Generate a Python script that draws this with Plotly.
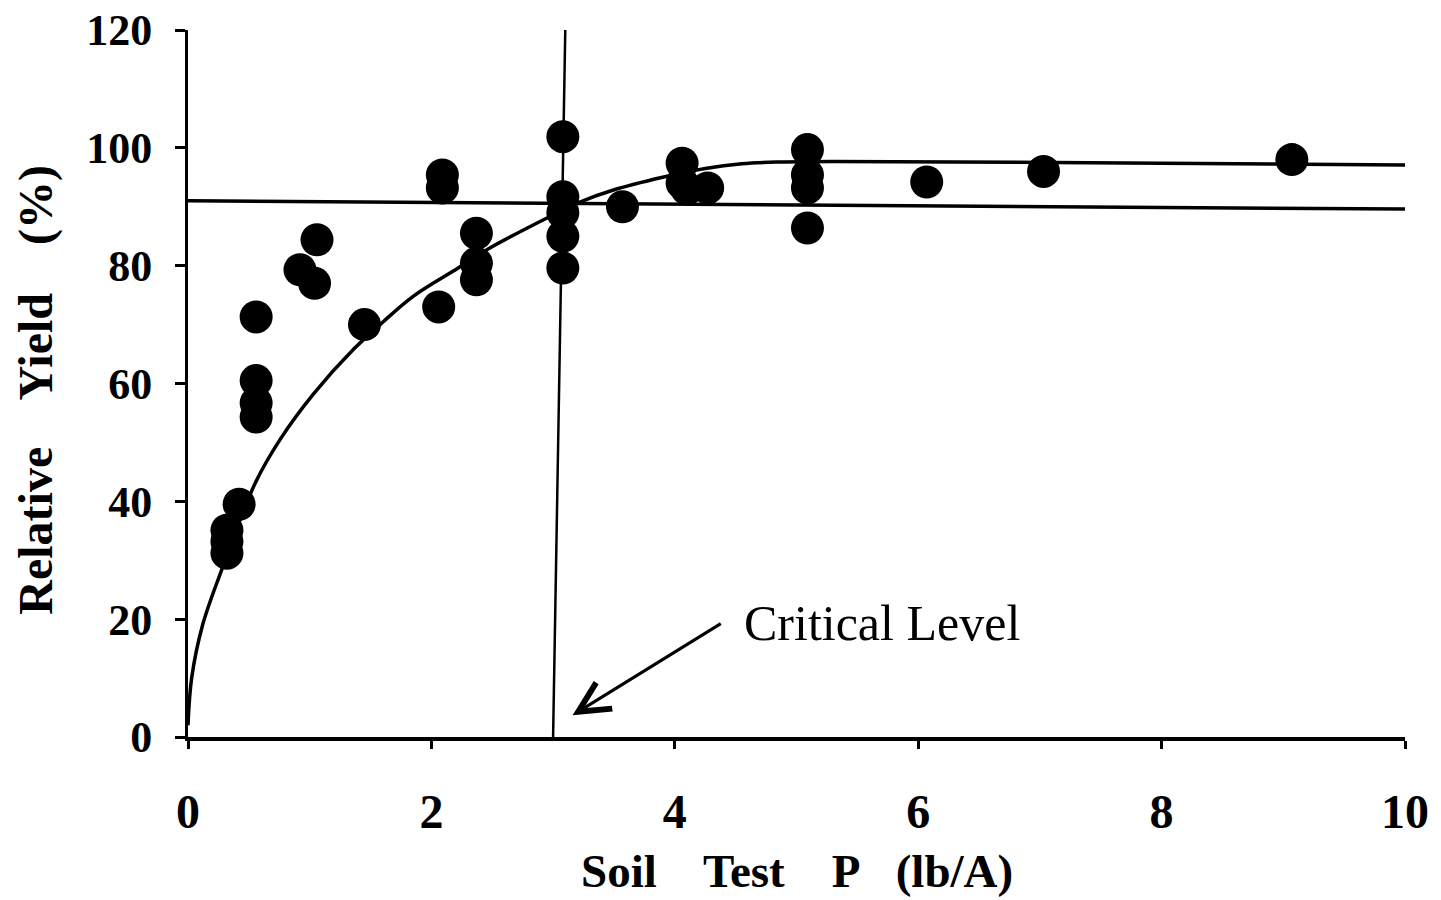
import plotly.graph_objects as go

# observed data points
pts_x = [0.32, 0.32, 0.32, 0.42, 0.56, 0.56, 0.56, 0.56, 0.92, 1.04, 1.06, 1.45,
         2.06, 2.09, 2.09, 2.37, 2.37, 2.37, 3.08, 3.08, 3.08, 3.08, 3.08, 3.57,
         4.06, 4.06, 4.10, 4.27, 5.09, 5.09, 5.09, 5.09, 6.07, 7.03, 9.07]
pts_y = [35.1, 33.2, 31.2, 39.5, 71.3, 60.5, 56.7, 54.3, 79.3, 77.0, 84.4, 70.0,
         73.0, 95.4, 93.2, 85.5, 80.4, 77.6, 101.9, 91.7, 89.0, 85.0, 79.6, 90.0,
         97.4, 94.0, 93.0, 93.2, 99.7, 95.4, 93.2, 86.4, 94.2, 96.0, 98.0]

# fitted response curve
curve_x = [0.0, 0.03, 0.12, 0.27, 0.55, 0.76, 1.03, 1.36, 1.60, 1.85, 2.22, 2.48, 2.95,
           3.22, 3.49, 3.90, 4.25, 4.55, 4.85, 5.30, 6.30, 8.00, 10.03]
curve_y = [2.0, 10.0, 19.0, 28.0, 43.0, 50.6, 58.2, 65.8, 70.4, 74.8, 79.6, 83.0, 88.1,
           90.8, 92.8, 95.0, 96.5, 97.3, 97.6, 97.7, 97.6, 97.4, 97.1]

# 90% relative yield line and critical level line
level_x = [0.0, 10.03]
level_y = [91.0, 89.6]
crit_x = [3.0, 3.1]
crit_y = [0.0, 120.0]

# annotation arrow (tail -> head)
arrow_tail = (4.39, 19.4)
arrow_head = (3.16, 3.7)
label_pos = (4.55, 19.4)

x_ticks = [0, 2, 4, 6, 8, 10]
y_ticks = [0, 20, 40, 60, 80, 100, 120]

fig = go.Figure()
fig.add_trace(go.Scatter(x=level_x, y=level_y, mode="lines",
                         line=dict(color="black", width=3.5), hoverinfo="skip"))
fig.add_trace(go.Scatter(x=crit_x, y=crit_y, mode="lines",
                         line=dict(color="black", width=2.5), hoverinfo="skip"))
fig.add_trace(go.Scatter(x=curve_x, y=curve_y, mode="lines",
                         line=dict(color="black", width=3.5, shape="spline", smoothing=1.0),
                         hoverinfo="skip"))
fig.add_trace(go.Scatter(x=pts_x, y=pts_y, mode="markers",
                         marker=dict(color="black", size=33, line=dict(width=0)),
                         cliponaxis=False))

fig.add_annotation(x=arrow_head[0], y=arrow_head[1], ax=arrow_tail[0], ay=arrow_tail[1],
                   xref="x", yref="y", axref="x", ayref="y", text="",
                   showarrow=True, arrowhead=5, arrowsize=2.0, arrowwidth=3,
                   arrowcolor="black", standoff=0)

fig.add_annotation(x=label_pos[0], y=label_pos[1], xref="x", yref="y", text="Critical Level",
                   showarrow=False, xanchor="left", yanchor="middle",
                   font=dict(family="Liberation Serif", size=50, color="black"))

fig.add_annotation(x=-0.125, y=0.491, xref="paper", yref="paper",
                   text="Relative\u00a0\u00a0\u00a0 Yield\u00a0\u00a0\u00a0 (%)", textangle=-90,
                   showarrow=False, xanchor="center", yanchor="middle",
                   font=dict(family="Liberation Serif", size=48, color="black", weight="bold"))
fig.add_annotation(x=0.5, y=-0.19, xref="paper", yref="paper",
                   text="Soil\u00a0\u00a0\u00a0 Test\u00a0\u00a0\u00a0 P\u00a0\u00a0 (lb/A)",
                   showarrow=False, xanchor="center", yanchor="middle",
                   font=dict(family="Liberation Serif", size=47, color="black", weight="bold"))

fig.update_layout(
    width=1441, height=900, showlegend=False,
    plot_bgcolor="white", paper_bgcolor="white",
    margin=dict(l=188, r=36, t=30, b=163, autoexpand=False),
)
fig.update_xaxes(range=[0, 10], tickvals=x_ticks, showgrid=False, zeroline=False,
                 showline=True, linecolor="black", linewidth=3.5,
                 ticks="outside", ticklen=8, tickwidth=2.5, tickcolor="black",
                 ticklabelstandoff=22, ticklabeloverflow="allow",
                 tickfont=dict(family="Liberation Serif", size=48, color="black", weight="bold"))
fig.update_yaxes(range=[0, 120], tickvals=y_ticks, showgrid=False, zeroline=False,
                 showline=True, linecolor="black", linewidth=3,
                 ticks="outside", ticklen=10, tickwidth=3, tickcolor="black",
                 ticklabelstandoff=14, ticklabeloverflow="allow",
                 tickfont=dict(family="Liberation Serif", size=44, color="black", weight="bold"))

fig.write_html("out.html", config={"displayModeBar": False},
               post_script="document.body.style.margin='0';document.body.style.overflow='hidden';")
